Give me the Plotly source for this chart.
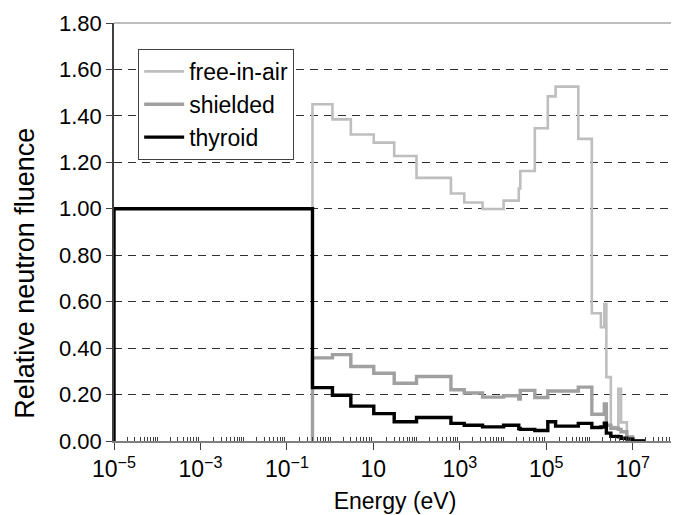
import plotly.graph_objects as go

# ---- data ----
# shared bin edges (eV) for the epithermal / fast region
bin_edges_ev = [0.39, 1.13, 3.01, 10.2, 30.3, 99.5, 622, 1265, 3350, 10280,
                23070, 25000, 54200, 108400, 164000, 550000, 1.13e6, 1.83e6,
                2.20e6, 2.45e6, 3.11e6, 4.64e6, 5.36e6, 7.3e6, 1.0e7, 2.0e7]

free_in_air = [1.45, 1.385, 1.32, 1.285, 1.227, 1.133, 1.066, 1.027, 0.999,
               1.035, 1.087, 1.163, 1.347, 1.484, 1.526, 1.301, 0.55, 0.49,
               0.59, 0.275, 0.06, 0.225, 0.08, 0.02, 0.0]

shielded = [0.358, 0.372, 0.321, 0.292, 0.249, 0.278, 0.221, 0.207, 0.189,
            0.195, 0.181, 0.218, 0.187, 0.215, 0.215, 0.232, 0.115, 0.115,
            0.16, 0.068, 0.055, 0.05, 0.04, 0.015, 0.0]

thyroid = [0.23, 0.197, 0.15, 0.118, 0.083, 0.101, 0.076, 0.068, 0.061,
           0.068, 0.054, 0.05, 0.045, 0.083, 0.064, 0.076, 0.058, 0.06,
           0.077, 0.034, 0.02, 0.018, 0.012, 0.008, 0.0]

# thermal bin for thyroid
thermal_edge_ev = 1e-5
thermal_value = 1.00

x_tick_vals = [1e-5, 1e-3, 1e-1, 10, 1e3, 1e5, 1e7]
x_tick_text = ["10<sup>−5</sup>", "10<sup>−3</sup>", "10<sup>−1</sup>", "10",
               "10<sup>3</sup>", "10<sup>5</sup>", "10<sup>7</sup>"]
y_tick_vals = [0.0, 0.2, 0.4, 0.6, 0.8, 1.0, 1.2, 1.4, 1.6, 1.8]


def step_xy(edges, vals):
    xs = [edges[0]] + list(edges[:-1]) + [edges[-1]]
    ys = [0.0] + list(vals) + [vals[-1]]
    return xs, ys


FONT = "Liberation Sans, Arial, sans-serif"

fig = go.Figure()
series = [
    ("free-in-air", bin_edges_ev, free_in_air, "#BEBEBE", 2.6),
    ("shielded", bin_edges_ev, shielded, "#A0A0A0", 3.4),
    ("thyroid", [thermal_edge_ev] + bin_edges_ev, [thermal_value] + thyroid, "#000000", 3.4),
]
for name, edges, vals, color, width in series:
    xs, ys = step_xy(edges, vals)
    fig.add_trace(go.Scatter(x=xs, y=ys, mode="lines", name=name,
                             line=dict(color=color, width=width, shape="hv")))

minor_vals = [m * 10.0 ** k for k in range(-5, 8) for m in range(2, 10)]
minor_vals += [10.0 ** k for k in (-4, -2, 0, 2, 4, 6)]

# page body has an 8px margin, so the figure is 8px smaller than the window
fig.update_layout(
    width=671, height=507,
    margin=dict(l=106, r=3, t=12, b=74),
    paper_bgcolor="white", plot_bgcolor="white",
    font=dict(family=FONT, size=22, color="#000000"),
    showlegend=True,
    legend=dict(x=0.043, y=0.938, xanchor="left", yanchor="top",
                bgcolor="white", bordercolor="#404040", borderwidth=1,
                font=dict(family=FONT, size=23, color="#000000"),
                tracegroupgap=0, itemwidth=40),
    xaxis=dict(type="log", range=[-5, 8],
               tickmode="array", tickvals=x_tick_vals, ticktext=x_tick_text,
               ticks="outside", ticklen=7, tickcolor="#404040", tickwidth=1,
               showgrid=False, showline=True, linecolor="#808080", linewidth=1.5,
               tickfont=dict(family=FONT, size=23),
               minor=dict(tickmode="array", tickvals=minor_vals, ticks="inside",
                          ticklen=4, tickcolor="#404040", tickwidth=1, showgrid=False),
               title=dict(text="Energy (eV)", font=dict(family=FONT, size=23), standoff=12)),
    yaxis=dict(range=[0, 1.8], tickmode="array", tickvals=y_tick_vals,
               tickformat=".2f", ticks="outside", ticklen=6, tickcolor="#404040",
               showgrid=True, gridcolor="#303030", gridwidth=1, griddash="8px,6px",
               showline=True, linecolor="#404040", linewidth=1.5,
               zeroline=False, ticklabeloverflow="allow",
               tickfont=dict(family=FONT, size=22)),
    annotations=[
        dict(text="Relative neutron fluence", textangle=-90, showarrow=False,
             xref="paper", yref="paper", x=0, y=0.40, xanchor="center", yanchor="middle",
             xshift=-89, font=dict(family=FONT, size=27, color="#000000")),
    ],
    shapes=[
        dict(type="line", xref="paper", yref="paper", x0=0, x1=1, y0=1, y1=1,
             line=dict(color="#A8A8A8", width=1.5), layer="above"),
        dict(type="line", xref="paper", yref="paper", x0=1, x1=1, y0=0, y1=1,
             line=dict(color="#A8A8A8", width=1.5), layer="above"),
    ],
)

fig.write_html("out.html")
